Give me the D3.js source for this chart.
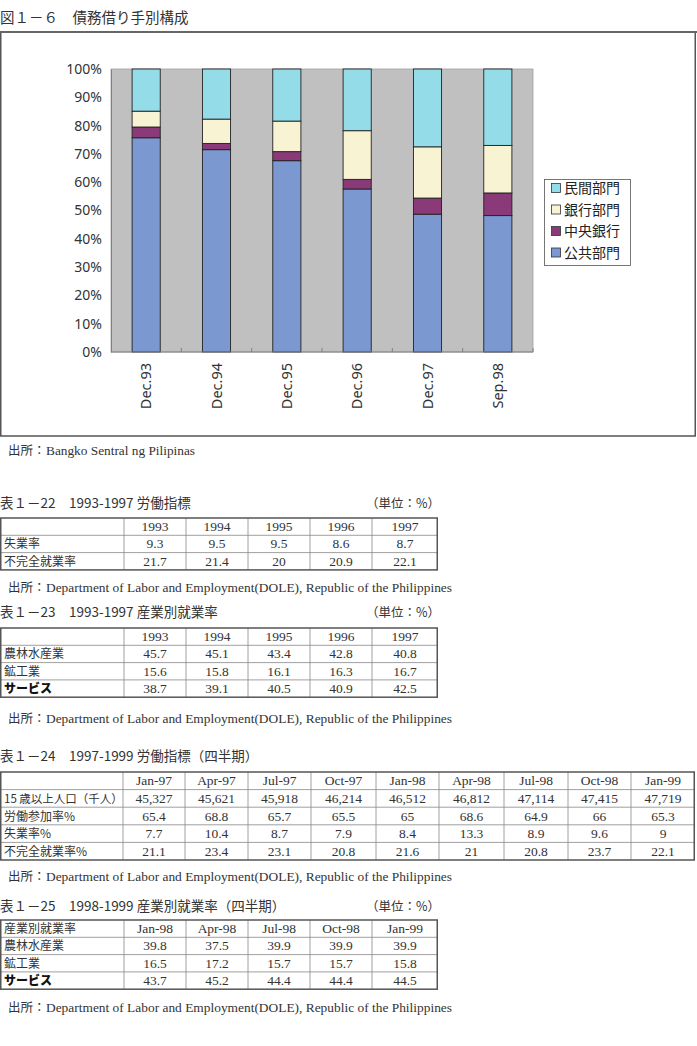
<!DOCTYPE html>
<html><head><meta charset="utf-8">
<script src="https://cdn.jsdelivr.net/npm/d3@7"></script>
<style>
html,body{margin:0;padding:0;background:#fff;}
svg{display:block;}
</style></head><body>
<svg id="c" width="697" height="1046"></svg>
<script>
// ---------- Chart data ----------
const categories = ["Dec.93","Dec.94","Dec.95","Dec.96","Dec.97","Sep.98"];
const seriesNames = ["公共部門","中央銀行","銀行部門","民間部門"];
const publicSector = [75.7,71.5,67.6,57.6,48.7,48.2];
const centralBank  = [3.8,2.2,3.2,3.4,5.7,8.0];
const bankSector   = [5.6,8.6,10.8,17.2,18.1,16.8];
const privateSector= [14.9,17.7,18.4,21.8,27.5,27.0];
const yTicks = [0,0.1,0.2,0.3,0.4,0.5,0.6,0.7,0.8,0.9,1.0];

// ---------- Table data ----------
const t22Cols = ["1993","1994","1995","1996","1997"];
const t22Rows = ["失業率","不完全就業率"];
const t22Vals = [["9.3","9.5","9.5","8.6","8.7"],["21.7","21.4","20","20.9","22.1"]];

const t23Cols = ["1993","1994","1995","1996","1997"];
const t23Rows = ["農林水産業","鉱工業","サービス"];
const t23Vals = [["45.7","45.1","43.4","42.8","40.8"],["15.6","15.8","16.1","16.3","16.7"],["38.7","39.1","40.5","40.9","42.5"]];

const t24Cols = ["Jan-97","Apr-97","Jul-97","Oct-97","Jan-98","Apr-98","Jul-98","Oct-98","Jan-99"];
const t24Rows = ["15 歳以上人口（千人）","労働参加率%","失業率%","不完全就業率%"];
const t24Vals = [
  ["45,327","45,621","45,918","46,214","46,512","46,812","47,114","47,415","47,719"],
  ["65.4","68.8","65.7","65.5","65","68.6","64.9","66","65.3"],
  ["7.7","10.4","8.7","7.9","8.4","13.3","8.9","9.6","9"],
  ["21.1","23.4","23.1","20.8","21.6","21","20.8","23.7","22.1"]];

const t25Cols = ["Jan-98","Apr-98","Jul-98","Oct-98","Jan-99"];
const t25Rows = ["農林水産業","鉱工業","サービス"];
const t25Vals = [["39.8","37.5","39.9","39.9","39.9"],["16.5","17.2","15.7","15.7","15.8"],["43.7","45.2","44.4","44.4","44.5"]];

const colors = {"公共部門":"#7b98d0","中央銀行":"#8a3a78","銀行部門":"#f8f3d2","民間部門":"#94dde8"};
const SANS = "'Noto Sans CJK JP','Noto Sans',sans-serif";
const SERIF = "'Liberation Serif','DejaVu Serif',serif";
const TXT = "#333";

const svg = d3.select("#c");

// ---------- Chart title & frame ----------
svg.append("text").attr("x",0).attr("y",23).attr("font-family",SANS).attr("font-size",14.5)
  .attr("fill",TXT).text("図１－６　債務借り手別構成");
svg.append("rect").attr("x",0.75).attr("y",32).attr("width",694.5).attr("height",404)
  .attr("fill","none").attr("stroke","#555").attr("stroke-width",1.5);
svg.append("line").attr("x1",0).attr("x2",697).attr("y1",32).attr("y2",32).attr("stroke","#666").attr("stroke-width",2);

const plot = {l:111,r:533,t:69,b:352};
const x = d3.scaleBand().domain(categories).range([plot.l,plot.r]).paddingInner(0.6).paddingOuter(0.3);
const y = d3.scaleLinear().domain([0,1]).range([plot.b,plot.t]);

svg.append("rect").attr("x",plot.l).attr("y",plot.t).attr("width",plot.r-plot.l).attr("height",plot.b-plot.t)
  .attr("fill","#c0c0c0").attr("stroke","#a0a0a0").attr("stroke-width",0.8);

const rows = categories.map((c,i)=>({cat:c,"公共部門":publicSector[i],"中央銀行":centralBank[i],"銀行部門":bankSector[i],"民間部門":privateSector[i]}));
const stacked = d3.stack().keys(seriesNames).offset(d3.stackOffsetExpand)(rows);

svg.append("g").selectAll("g").data(stacked).join("g")
  .attr("fill",d=>colors[d.key])
  .selectAll("rect").data(d=>d).join("rect")
  .attr("x",d=>x(d.data.cat)).attr("width",x.bandwidth())
  .attr("y",d=>y(d[1])).attr("height",d=>y(d[0])-y(d[1]))
  .attr("stroke","#222").attr("stroke-width",0.9);

// y axis
const yAxis = svg.append("g").attr("transform",`translate(${plot.l},0)`)
  .call(d3.axisLeft(y).tickValues(yTicks).tickFormat(d3.format(".0%")).tickSize(0).tickPadding(9));
yAxis.select(".domain").attr("stroke","#808080");
yAxis.selectAll("text").attr("font-family","'Noto Sans',sans-serif").attr("font-size",14).attr("fill",TXT);

// x axis (ticks at band boundaries, inward)
const bounds = d3.range(categories.length+1).map(i=>plot.l + i*(plot.r-plot.l)/categories.length);
svg.append("line").attr("x1",plot.l).attr("x2",plot.r).attr("y1",plot.b).attr("y2",plot.b).attr("stroke","#808080").attr("stroke-width",1);
svg.append("g").selectAll("line").data(bounds.slice(1)).join("line")
  .attr("x1",d=>d).attr("x2",d=>d).attr("y1",plot.b).attr("y2",plot.b-4).attr("stroke","#808080");
svg.append("g").selectAll("text").data(categories).join("text")
  .attr("transform",d=>`translate(${x(d)+x.bandwidth()/2+5},363) rotate(-90)`)
  .attr("text-anchor","end").attr("font-family","'Noto Sans',sans-serif").attr("font-size",14.5).attr("fill",TXT)
  .text(d=>d);

// legend
const lg = svg.append("g");
lg.append("rect").attr("x",544.5).attr("y",179.5).attr("width",86).attr("height",86).attr("fill","#fff").attr("stroke","#555").attr("stroke-width",0.8);
const legendOrder = ["民間部門","銀行部門","中央銀行","公共部門"];
const li = lg.selectAll("g").data(legendOrder).join("g").attr("transform",(d,i)=>`translate(0,${188+i*21.5})`);
li.append("rect").attr("x",551.5).attr("y",-4.5).attr("width",9).attr("height",9).attr("fill",d=>colors[d]).attr("stroke","#333").attr("stroke-width",0.8);
li.append("text").attr("x",564).attr("y",5).attr("font-family",SANS).attr("font-size",14).attr("fill","#222").text(d=>d);

// source helper
function source(yb, latin, len){
  svg.append("text").attr("x",8).attr("y",yb).attr("font-family",SANS).attr("font-size",12.5).attr("fill",TXT).text("出所：");
  svg.append("text").attr("x",46).attr("y",yb).attr("font-family",SERIF).attr("font-size",13.5).attr("fill",TXT)
    .attr("textLength",len).attr("lengthAdjust","spacingAndGlyphs").text(latin);
}
source(455,"Bangko Sentral ng Pilipinas",149);

// table helpers
function title(yb, t, unit){
  svg.append("text").attr("x",0).attr("y",yb).attr("font-family",SANS).attr("font-size",13.5).attr("fill",TXT).text(t);
  if(unit) svg.append("text").attr("x",440).attr("y",yb).attr("text-anchor","end").attr("font-family",SANS).attr("font-size",12.5).attr("fill",TXT).text(unit);
}
function table(top, rowH, colB, headFirst, cols, rowLabels, vals){
  const g = svg.append("g");
  const nRows = rowLabels.length+1;
  const bottom = top + rowH*nRows;
  const left = colB[0], right = colB[colB.length-1];
  g.selectAll("line.h").data(d3.range(1,nRows)).join("line")
    .attr("x1",left).attr("x2",right).attr("y1",i=>top+i*rowH).attr("y2",i=>top+i*rowH)
    .attr("stroke","#888").attr("stroke-width",0.8);
  g.selectAll("line.v").data(colB.slice(1,-1)).join("line")
    .attr("x1",d=>d).attr("x2",d=>d).attr("y1",top).attr("y2",bottom)
    .attr("stroke","#888").attr("stroke-width",0.8);
  g.append("rect").attr("x",left+0.75).attr("y",top).attr("width",right-left-1.5).attr("height",bottom-top)
    .attr("fill","none").attr("stroke","#555").attr("stroke-width",1.5);
  const tb = r => top + r*rowH + rowH/2 + 4.5;
  if(headFirst) g.append("text").attr("x",4).attr("y",tb(0)).attr("font-family",SANS).attr("font-size",12).attr("fill",TXT).text(headFirst);
  g.selectAll("text.hd").data(cols).join("text")
    .attr("x",(d,i)=>(colB[i+1]+colB[i+2])/2).attr("y",tb(0)).attr("text-anchor","middle")
    .attr("font-family",SERIF).attr("font-size",13.5).attr("fill",TXT).text(d=>d);
  rowLabels.forEach((lab,r)=>{
    const bold = lab==="サービス";
    g.append("text").attr("x",4).attr("y",tb(r+1)).attr("font-family",SANS)
      .attr("font-size", lab.length>10?11.5:12).attr("font-weight",bold?900:400).attr("fill",bold?"#111":TXT).text(lab);
    g.selectAll(null).data(vals[r]).join("text")
      .attr("x",(d,i)=>(colB[i+1]+colB[i+2])/2).attr("y",tb(r+1)).attr("text-anchor","middle")
      .attr("font-family",SERIF).attr("font-size",13.5).attr("fill",TXT).text(d=>d);
  });
}

const colA = [0,124,186,248,310,372,438];
const colB = [0,123,185,248,311,376,439,504,568,631,695];

title(508,"表１－22　1993-1997 労働指標","（単位：%）");
table(518,17.3,colA,null,t22Cols,t22Rows,t22Vals);
source(592,"Department of Labor and Employment(DOLE), Republic of the Philippines",406);

title(617,"表１－23　1993-1997 産業別就業率","（単位：%）");
table(628,17.3,colA,null,t23Cols,t23Rows,t23Vals);
source(723,"Department of Labor and Employment(DOLE), Republic of the Philippines",406);

title(761,"表１－24　1997-1999 労働指標（四半期）",null);
table(772,17.6,colB,null,t24Cols,t24Rows,t24Vals);
source(881,"Department of Labor and Employment(DOLE), Republic of the Philippines",406);

title(911,"表１－25　1998-1999 産業別就業率（四半期）","（単位：%）");
table(920,17.3,colA,"産業別就業率",t25Cols,t25Rows,t25Vals);
source(1012,"Department of Labor and Employment(DOLE), Republic of the Philippines",406);
</script>
</body></html>
